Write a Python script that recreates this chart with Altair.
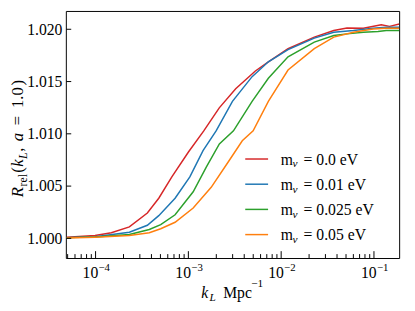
import altair as alt
import pandas as pd

# ---------------- data ----------------
series_labels = ["0.0", "0.01", "0.025", "0.05"]
series_colors = ["#d62728", "#1f77b4", "#2ca02c", "#ff7f0e"]

logk_m000 = [-4.31, -4.006, -3.83, -3.636, -3.442, -3.319, -3.178, -3.001, -2.834, -2.667,
             -2.49, -2.278, -2.138, -1.926, -1.643, -1.433, -1.291, -1.114, -0.921, -0.832, -0.726]
rrel_m000 = [1.0001, 1.00028, 1.00054, 1.0011, 1.00242, 1.00384, 1.00588, 1.00824, 1.01028, 1.01248,
             1.01431, 1.01601, 1.01689, 1.01814, 1.01925, 1.01988, 1.02012, 1.02009, 1.02044, 1.02028, 1.0205]

logk_m001 = [-4.31, -4.006, -3.636, -3.442, -3.319, -3.143, -2.984, -2.842, -2.701, -2.525,
             -2.313, -2.138, -1.926, -1.643, -1.433, -1.221, -1.01, -0.868, -0.726]
rrel_m001 = [1.00007, 1.00016, 1.00059, 1.00125, 1.00217, 1.00384, 1.00588, 1.0084, 1.01028, 1.01311,
             1.01547, 1.01689, 1.01805, 1.01915, 1.01972, 1.01988, 1.0201, 1.02019, 1.02019]

logk_m0025 = [-4.31, -4.006, -3.636, -3.421, -3.298, -3.143, -2.948, -2.807, -2.666, -2.514,
              -2.313, -2.138, -1.926, -1.643, -1.433, -1.291, -1.114, -0.956, -0.868, -0.726]
rrel_m0025 = [1.00007, 1.00014, 1.00038, 1.00085, 1.00132, 1.00226, 1.00446, 1.00682, 1.00903, 1.01028,
              1.01311, 1.01531, 1.01736, 1.01877, 1.01941, 1.01956, 1.01972, 1.01978, 1.01988, 1.01988]

logk_m005 = [-4.31, -4.006, -3.636, -3.421, -3.298, -3.143, -2.948, -2.754, -2.56, -2.419,
             -2.302, -2.138, -1.926, -1.643, -1.433, -1.221, -1.01, -0.868, -0.726]
rrel_m005 = [1.00003, 1.00011, 1.00028, 1.00054, 1.00092, 1.00154, 1.0029, 1.00488, 1.00745, 1.00934,
             1.01028, 1.01311, 1.0161, 1.01814, 1.01925, 1.01972, 1.02003, 1.02009, 1.02009]

x_major = [1e-4, 1e-3, 1e-2, 1e-1]
x_major_exp = ["\u22124", "\u22123", "\u22122", "\u22121"]
x_minor = [5e-5, 6e-5, 7e-5, 8e-5, 9e-5,
           2e-4, 3e-4, 4e-4, 5e-4, 6e-4, 7e-4, 8e-4, 9e-4,
           2e-3, 3e-3, 4e-3, 5e-3, 6e-3, 7e-3, 8e-3, 9e-3,
           2e-2, 3e-2, 4e-2, 5e-2, 6e-2, 7e-2, 8e-2, 9e-2]
y_major = [1.000, 1.005, 1.010, 1.015, 1.020]

# ---------------- tables ----------------
rows = []
for lab, lk, rv in zip(series_labels,
                       [logk_m000, logk_m001, logk_m0025, logk_m005],
                       [rrel_m000, rrel_m001, rrel_m0025, rrel_m005]):
    for a, b in zip(lk, rv):
        rows.append({"k": 10 ** a, "R": b, "m": lab})
df = pd.DataFrame(rows)
df_xmaj = pd.DataFrame({"k": x_major, "base": ["10"] * len(x_major), "exp": x_major_exp})
df_xmin = pd.DataFrame({"k": x_minor})
df_ymaj = pd.DataFrame({"R": y_major})
one = pd.DataFrame({"a": [0]})

SERIF = "Liberation Serif"
W, H = 340, 252
xscale = alt.Scale(type="log", domain=[4.782e-5, 0.1869], nice=False)
yscale = alt.Scale(domain=[0.99812, 1.02175], nice=False, zero=False)
cscale = alt.Scale(domain=series_labels, range=series_colors)

xaxis = alt.Axis(labels=False, ticks=False, domain=False, grid=False, title=None)
yaxis = alt.Axis(values=y_major, format=".3f", ticks=False, domain=False, grid=False,
                 title=None, labelFont=SERIF, labelFontSize=16, labelColor="black",
                 labelPadding=4)

lines = alt.Chart(df).mark_line(strokeWidth=1.5, clip=True).encode(
    x=alt.X("k:Q", scale=xscale, axis=xaxis),
    y=alt.Y("R:Q", scale=yscale, axis=yaxis),
    color=alt.Color("m:N", scale=cscale, legend=None),
    order=alt.Order("k:Q"),
)

xmaj_ticks = alt.Chart(df_xmaj).mark_rule(color="black", strokeWidth=1).encode(
    x=alt.X("k:Q", scale=xscale, axis=xaxis), y=alt.value(H), y2=alt.value(H - 7))
xmin_ticks = alt.Chart(df_xmin).mark_rule(color="black", strokeWidth=1).encode(
    x=alt.X("k:Q", scale=xscale, axis=xaxis), y=alt.value(H), y2=alt.value(H - 4))
ymaj_ticks = alt.Chart(df_ymaj).mark_rule(color="black", strokeWidth=1).encode(
    y=alt.Y("R:Q", scale=yscale, axis=yaxis), x=alt.value(0.5), x2=alt.value(5.5))

xlab_base = alt.Chart(df_xmaj).mark_text(align="right", baseline="alphabetic", dx=2.7,
                                         font=SERIF, fontSize=16, color="black").encode(
    x=alt.X("k:Q", scale=xscale, axis=xaxis), y=alt.value(272), text="base:N")
xlab_exp = alt.Chart(df_xmaj).mark_text(align="left", baseline="alphabetic", dx=3,
                                        font=SERIF, fontSize=11, color="black").encode(
    x=alt.X("k:Q", scale=xscale, axis=xaxis), y=alt.value(265.3), text="exp:N")


def txt(s, x, y, size=16, style="normal", angle=0, align="left"):
    kw = dict(align=align, baseline="alphabetic", font=SERIF, fontSize=size,
              fontStyle=style, color="black")
    if angle:
        kw["angle"] = angle
    return alt.Chart(one).mark_text(**kw).encode(
        x=alt.value(x), y=alt.value(y), text=alt.value(s))


# x-axis title: k_L Mpc^-1
xtitle = [
    txt("k", 138, 292.7, 16, "italic"),
    txt("L", 146.5, 296, 11.5, "italic"),
    txt("Mpc", 160.5, 292.7, 16),
    txt("\u22121", 189, 281.5, 11.5),
]

# y-axis title: R_rel(k_L, a = 1.0), rotated
bx, sx = -43.5, -39.5
ytitle = [
    txt("R", bx, 190, 17, "italic", 270),
    txt("rel", sx, 179, 12, "normal", 270),
    txt("(", bx, 165, 17, "normal", 270),
    txt("k", bx, 159, 17, "italic", 270),
    txt("L", sx, 151, 12, "italic", 270),
    txt(",", bx, 143.5, 17, "normal", 270),
    txt("a", bx, 133, 17, "italic", 270),
    txt("=", bx, 116.5, 17, "normal", 270),
    txt("1.0", bx, 99, 17, "normal", 270),
    txt(")", bx, 76, 17, "normal", 270),
]

# legend (manual, to keep the subscript nu)
legend = []
for i, (lab, col) in enumerate(zip(series_labels, series_colors)):
    yy = 151 + i * 25.7
    legend.append(alt.Chart(one).mark_rule(color=col, strokeWidth=1.5).encode(
        x=alt.value(183), x2=alt.value(206.3), y=alt.value(yy)))
    legend.append(txt("m", 219.3, yy + 6, 16))
    legend.append(txt("\u03bd", 231.3, yy + 8.5, 11.5, "italic"))
    legend.append(txt("= " + lab + " eV", 242.5, yy + 6, 16))

chart = alt.layer(
    lines, xmaj_ticks, xmin_ticks, ymaj_ticks, xlab_base, xlab_exp, *xtitle, *ytitle, *legend
).properties(
    width=W, height=H,
    autosize=alt.AutoSizeParams(type="none"),
    padding={"left": 59, "top": 0, "right": 8, "bottom": 51},
).configure_view(stroke="black", strokeWidth=1)

chart.save("out.html", embed_options={"renderer": "svg", "actions": False})
